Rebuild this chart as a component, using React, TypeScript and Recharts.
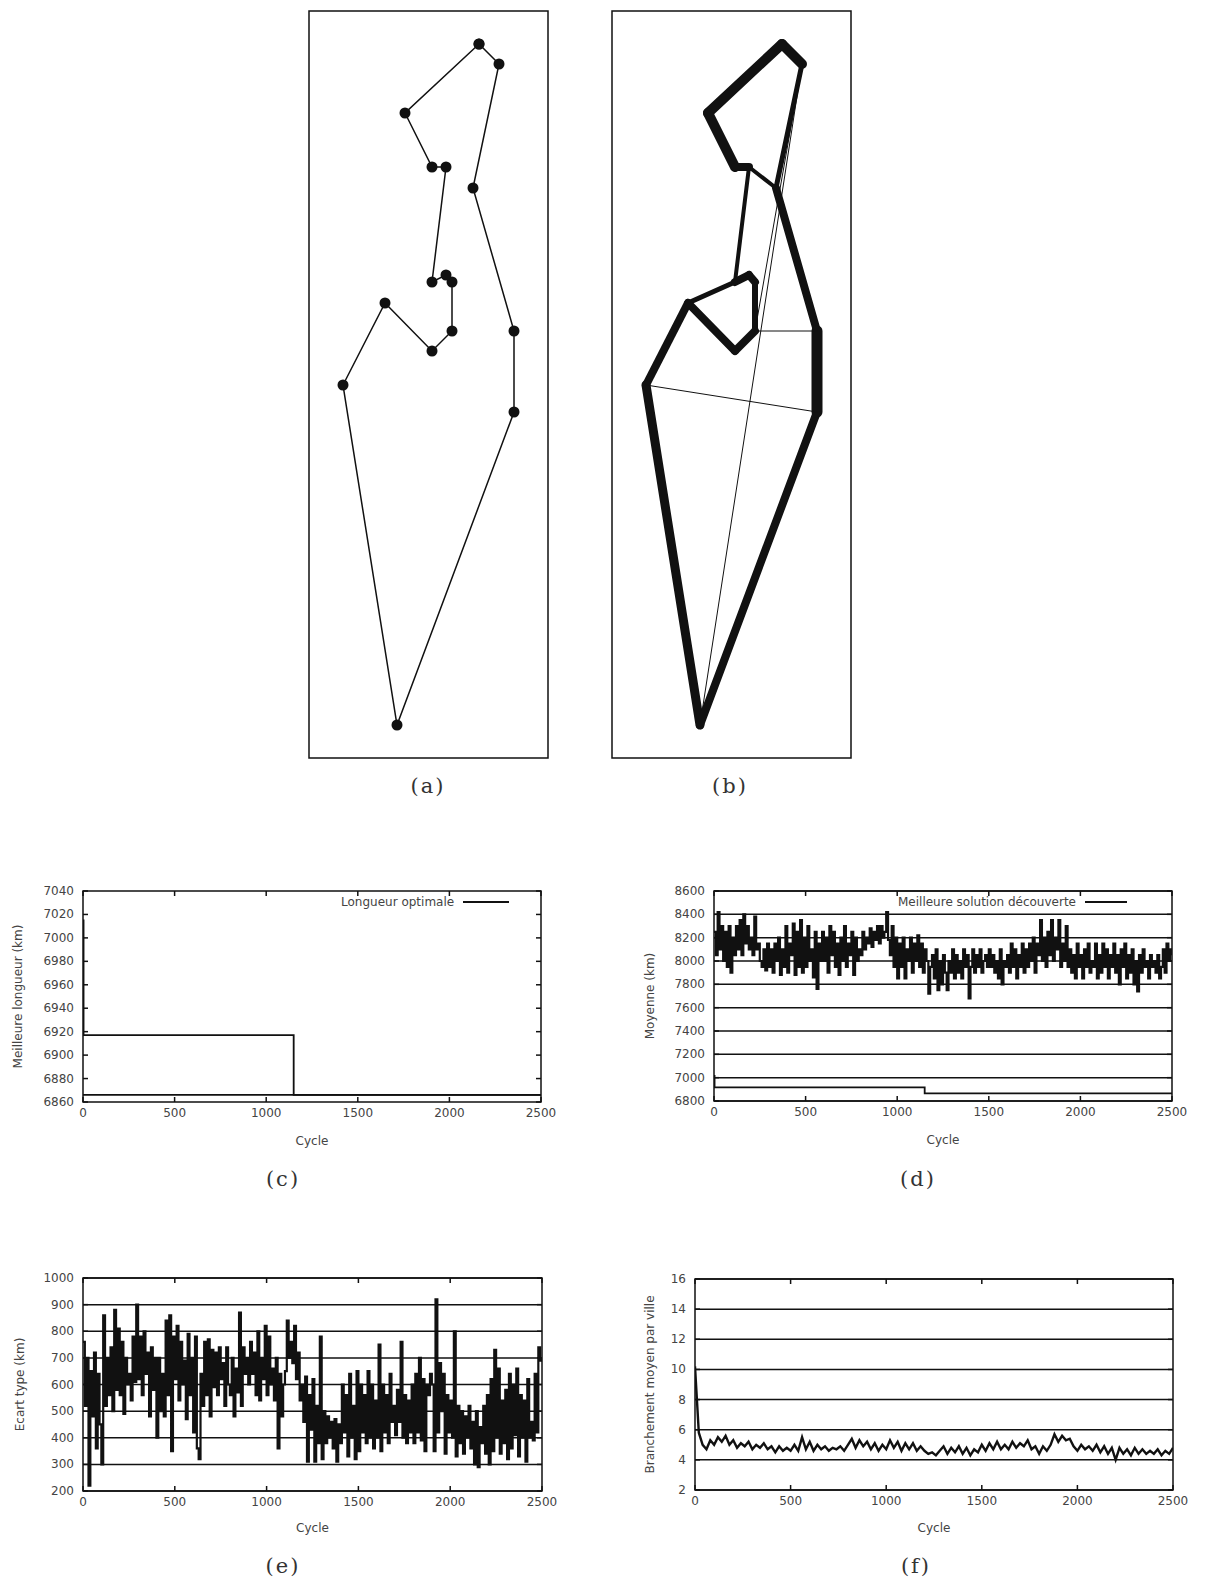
import React from 'react';
import {
  LineChart,
  Line,
  ScatterChart,
  Scatter,
  XAxis,
  YAxis,
  CartesianGrid,
  ReferenceArea,
  Legend,
} from 'recharts';

// ---- tour panels (a) and (b): city coordinates in the plot frame ----
const cityX = [170, 190, 96, 123, 137, 164, 123, 137, 143, 76, 143, 123, 205, 34, 205, 88];
const cityY = [714, 694, 645, 591, 591, 570, 476, 483, 476, 455, 427, 407, 427, 373, 346, 33];
const bestTour = [0, 1, 5, 12, 14, 15, 13, 9, 11, 10, 8, 7, 6, 4, 3, 2, 0];
// [from, to, pheromone level]
const pheromoneEdges = [
  [0, 1, 10], [0, 2, 10], [2, 3, 10], [3, 4, 8], [4, 5, 4], [1, 5, 5],
  [5, 12, 8], [4, 6, 4], [6, 7, 8], [7, 8, 8], [8, 10, 6], [10, 11, 8],
  [11, 9, 8], [9, 6, 5], [9, 13, 8], [13, 15, 9], [15, 14, 8], [14, 12, 11],
  [1, 10, 1], [1, 15, 1], [10, 12, 1], [13, 14, 1],
];

// ---- shared cycle axis ----
const cycleTicks = [0, 500, 1000, 1500, 2000, 2500];

// (c) best length found vs optimal length
const bestCycles = [0, 3, 1150, 2500];
const bestLength = [7015, 6917, 6866, 6866];
const optimalCycles = [0, 2500];
const optimalLength = [6866, 6866];
const lengthTicks = [6860, 6880, 6900, 6920, 6940, 6960, 6980, 7000, 7020, 7040];

// (d) mean tour length, one value every 10 cycles
const MEAN_STEP = 10;
const meanLength = [
  8250, 8050, 8420, 8100, 8300, 8000, 8250, 7950, 8300, 7900,
  8200, 8050, 8300, 8100, 8350, 8050, 8400, 8150, 8300, 8100,
  8200, 8050, 8380, 8100, 8150, 8000, 7950, 8100, 7920, 8150,
  7950, 8100, 7900, 8150, 8000, 8200, 7880, 8100, 7950, 8300,
  7900, 8150, 8050, 8320, 7880, 8250, 7950, 8350, 7900, 8200,
  7950, 8300, 8000, 8100, 7860, 8250, 7760, 8150, 8000, 8250,
  8000, 8200, 7900, 8300, 8050, 8250, 7950, 8150, 7880, 8200,
  8000, 8300, 7950, 8150, 8050, 8250, 7880, 8200, 8000, 8100,
  8050, 8250, 8100, 8200, 8150, 8280, 8120, 8250, 8180, 8300,
  8150, 8300, 8200, 8250, 8420, 8180, 8050, 8300, 7950, 8200,
  7850, 8150, 7950, 8200, 7850, 8100, 8000, 8200, 7900, 8150,
  8000, 8220, 7950, 8150, 7900, 8100, 8000, 7720, 7950, 8050,
  7850, 8100, 7750, 8000, 7800, 8050, 7900, 7750, 8000, 7900,
  8100, 7850, 8050, 7900, 8000, 7850, 8100, 7950, 8050, 7680,
  7950, 8100, 7900, 8050, 7950, 8100, 7900, 8000, 8050, 7950,
  8100, 7950, 8050, 7900, 8000, 7850, 8100, 7800, 8000, 7950,
  8050, 7900, 8150, 7950, 8100, 7850, 8050, 7950, 8150, 7900,
  8100, 7950, 8150, 8000, 8200, 7900, 8150, 8050, 8350, 8000,
  8200, 7950, 8250, 8050, 8350, 8000, 8200, 8100, 8350, 7950,
  8150, 8000, 8300, 7950, 8100, 7900, 8050, 7850, 8150, 7950,
  8050, 7850, 8100, 7950, 8150, 7900, 8000, 7950, 8150, 7850,
  8050, 7900, 8150, 7950, 8100, 7850, 8050, 7950, 8150, 7900,
  8050, 7800, 8100, 7950, 8150, 7850, 8050, 7900, 8100, 7800,
  8000, 7740, 8050, 7900, 8100, 7950, 8000, 7850, 8050, 7950,
  8000, 7900, 8050, 7850, 7950, 8100, 7900, 8150, 8000, 8100,
  8050,
];
const meanTicks = [6800, 7000, 7200, 7400, 7600, 7800, 8000, 8200, 8400, 8600];

// (e) standard deviation, one value every 10 cycles
const STD_STEP = 10;
const stdDev = [
  760, 520, 700, 220, 650, 480, 720, 360, 640, 450,
  300, 860, 520, 700, 560, 740, 500, 880, 580, 810,
  560, 760, 490, 700, 600, 640, 540, 780, 610, 900,
  620, 780, 560, 800, 640, 720, 480, 740, 580, 700,
  400, 700, 500, 640, 480, 840, 560, 860, 350, 780,
  620, 820, 540, 760, 600, 690, 470, 790, 560, 700,
  420, 780, 360, 320, 640, 520, 760, 560, 770, 480,
  730, 590, 720, 560, 740, 620, 680, 520, 740, 600,
  560, 700, 480, 660, 570, 870, 520, 740, 640, 700,
  600, 760, 640, 720, 560, 800, 540, 700, 620, 820,
  560, 780, 600, 660, 540, 700, 360, 640, 480, 600,
  650, 840, 700, 760, 680, 820, 620, 720, 540, 600,
  460, 630, 310, 560, 430, 620, 310, 520, 380, 780,
  320, 500, 380, 480, 400, 460, 360, 470, 310, 450,
  380, 600, 420, 560, 330, 640, 400, 520, 320, 650,
  350, 600, 420, 560, 380, 650, 400, 600, 360, 540,
  400, 750, 350, 600, 420, 560, 380, 640, 460, 520,
  410, 580, 460, 760, 400, 560, 380, 540, 420, 600,
  380, 640, 420, 700, 390, 620, 350, 600, 560, 640,
  600, 350, 920, 420, 680, 500, 640, 340, 560, 420,
  540, 400, 800, 330, 520, 380, 500, 340, 480, 400,
  520, 360, 460, 300, 500, 290, 440, 380, 520, 340,
  560, 300, 620, 350, 730, 400, 660, 340, 540, 380,
  580, 320, 640, 360, 600, 410, 660, 330, 560, 400,
  540, 310, 620, 400, 460, 390, 640, 420, 740, 690,
  700,
];
const stdTicks = [200, 300, 400, 500, 600, 700, 800, 900, 1000];

// (f) mean branching per city, one value every 20 cycles
const BRANCH_STEP = 20;
const branching = [
  10.2, 5.8, 5.0, 4.7, 5.3, 5.0, 5.5, 5.2, 5.6, 5.0,
  5.3, 4.8, 5.1, 4.9, 5.2, 4.7, 5.0, 4.8, 5.1, 4.7,
  4.9, 4.5, 4.9, 4.6, 4.8, 4.6, 5.0, 4.6, 5.5, 4.7,
  5.2, 4.6, 5.0, 4.7, 4.9, 4.6, 4.8, 4.7, 4.9, 4.6,
  5.0, 5.4, 4.8, 5.3, 4.9, 5.2, 4.7, 5.1, 4.6, 5.0,
  4.7, 5.3, 4.8, 5.2, 4.6, 5.1, 4.7, 5.1, 4.6, 4.9,
  4.6, 4.4, 4.5, 4.3, 4.6, 4.9, 4.4, 4.8, 4.5, 4.9,
  4.4, 4.8, 4.3, 4.7, 4.5, 5.0, 4.6, 5.1, 4.7, 5.2,
  4.7, 5.0, 4.7, 5.2, 4.8, 5.1, 4.9, 5.3, 4.7, 4.9,
  4.4, 4.9, 4.6, 5.0, 5.7, 5.2, 5.6, 5.3, 5.4, 4.9,
  4.6, 5.0, 4.7, 4.9, 4.6, 5.0, 4.5, 4.9, 4.4, 4.8,
  4.0, 4.8, 4.4, 4.7, 4.3, 4.8, 4.4, 4.7, 4.4, 4.6,
  4.4, 4.7, 4.3, 4.6, 4.4, 4.8,
];
const branchTicks = [2, 4, 6, 8, 10, 12, 14, 16];

const FONT = '"DejaVu Sans", sans-serif';
const INK = '#111';
const TEXT = '#444';
const X_AXIS_H = 50;

const toPoints = (xs: number[], ys: number[]) => xs.map((x, i) => ({ x, y: ys[i] }));
const sampled = (ys: number[], step: number) => ys.map((y, i) => ({ x: i * step, y }));
const city = (i: number) => ({ x: cityX[i], y: cityY[i] });

// gnuplot style: ticks pointing inwards, mirrored on the opposite side
const xTick = (plotH: number) => (props: any) => {
  const { x, y, payload } = props;
  return (
    <g>
      <line x1={x} y1={y} x2={x} y2={y - 5} stroke={INK} strokeWidth={1.5} />
      <line x1={x} y1={y - plotH} x2={x} y2={y - plotH + 5} stroke={INK} strokeWidth={1.5} />
      <text x={x} y={y + 15} textAnchor="middle" fontFamily={FONT} fontSize={12} fill={TEXT}>
        {payload.value}
      </text>
    </g>
  );
};

const yTick = (plotW: number) => (props: any) => {
  const { x, y, payload } = props;
  return (
    <g>
      <line x1={x} y1={y} x2={x + 5} y2={y} stroke={INK} strokeWidth={1.5} />
      <line x1={x + plotW} y1={y} x2={x + plotW - 5} y2={y} stroke={INK} strokeWidth={1.5} />
      <text x={x - 9} y={y + 4} textAnchor="end" fontFamily={FONT} fontSize={12} fill={TEXT}>
        {payload.value}
      </text>
    </g>
  );
};

const legendBox = (label: string, sample: number) => () => (
  <div
    style={{
      display: 'flex',
      alignItems: 'center',
      fontFamily: FONT,
      fontSize: 12,
      color: TEXT,
      whiteSpace: 'nowrap',
    }}
  >
    <span>{label}</span>
    <span style={{ display: 'inline-block', width: sample, height: 2, background: INK, marginLeft: 9 }} />
  </div>
);

interface Series {
  data: { x: number; y: number }[];
  type: 'linear' | 'stepAfter';
  width: number;
}

interface CyclePlotProps {
  left: number;
  top: number;
  width: number;
  height: number;
  yWidth: number;
  marginTop: number;
  marginRight: number;
  yDomain: [number, number];
  yTicks: number[];
  yLabel: string;
  yLabelOffset: number;
  cycleLabelOffset: number;
  grid?: boolean;
  series: Series[];
  legend?: { label: string; left: number; sample: number };
}

function CyclePlot({
  left,
  top,
  width,
  height,
  yWidth,
  marginTop,
  marginRight,
  yDomain,
  yTicks,
  yLabel,
  yLabelOffset,
  cycleLabelOffset,
  grid,
  series,
  legend,
}: CyclePlotProps) {
  const plotW = width - yWidth - marginRight;
  const plotH = height - marginTop - X_AXIS_H;
  const labelStyle = { textAnchor: 'middle' as const, fontFamily: FONT, fontSize: 12, fill: TEXT };

  return (
    <div style={{ position: 'absolute', left, top }}>
      <LineChart width={width} height={height} margin={{ top: marginTop, right: marginRight, bottom: 0, left: 0 }}>
        {grid && <CartesianGrid vertical={false} stroke={INK} strokeWidth={1.5} />}
        <XAxis
          type="number"
          dataKey="x"
          domain={[0, 2500]}
          ticks={cycleTicks}
          interval={0}
          allowDataOverflow
          axisLine={false}
          tickLine={false}
          tickSize={0}
          tickMargin={0}
          height={X_AXIS_H}
          tick={xTick(plotH)}
          label={{ value: 'Cycle', position: 'insideBottom', offset: cycleLabelOffset, style: labelStyle }}
        />
        <YAxis
          type="number"
          dataKey="y"
          domain={yDomain}
          ticks={yTicks}
          interval={0}
          allowDataOverflow
          axisLine={false}
          tickLine={false}
          tickSize={0}
          tickMargin={0}
          width={yWidth}
          tick={yTick(plotW)}
          label={{ value: yLabel, angle: -90, position: 'insideLeft', offset: yLabelOffset, style: labelStyle }}
        />
        <ReferenceArea
          x1={0}
          x2={2500}
          y1={yDomain[0]}
          y2={yDomain[1]}
          fill="none"
          stroke={INK}
          strokeWidth={1.5}
        />
        {series.map((s, i) => (
          <Line
            key={i}
            data={s.data}
            dataKey="y"
            type={s.type}
            stroke={INK}
            strokeWidth={s.width}
            dot={false}
            activeDot={false}
            isAnimationActive={false}
          />
        ))}
        {legend && (
          <Legend
            layout="vertical"
            align="center"
            verticalAlign="middle"
            wrapperStyle={{ top: 15, left: legend.left, width: 'auto', height: 'auto' }}
            content={legendBox(legend.label, legend.sample)}
          />
        )}
      </LineChart>
    </div>
  );
}

const TOUR_W = 239;
const TOUR_H = 747;

function TourFrame({ left, children }: { left: number; children: React.ReactNode }) {
  return (
    <div style={{ position: 'absolute', left, top: 9 }}>
      <ScatterChart width={TOUR_W + 4} height={TOUR_H + 4} margin={{ top: 2, right: 2, bottom: 2, left: 2 }}>
        <XAxis type="number" dataKey="x" domain={[0, TOUR_W]} hide allowDataOverflow />
        <YAxis type="number" dataKey="y" domain={[0, TOUR_H]} hide allowDataOverflow />
        <ReferenceArea x1={0} x2={TOUR_W} y1={0} y2={TOUR_H} fill="none" stroke={INK} strokeWidth={1.5} />
        {children}
      </ScatterChart>
    </div>
  );
}

function Caption({ text, cx, cy }: { text: string; cx: number; cy: number }) {
  return (
    <div
      style={{
        position: 'absolute',
        left: cx - 30,
        top: cy - 13,
        width: 60,
        textAlign: 'center',
        fontFamily: '"DejaVu Serif", serif',
        fontSize: 21,
        lineHeight: '26px',
        letterSpacing: 2,
        color: '#333',
      }}
    >
      {text}
    </div>
  );
}

const cityDot = (props: any) => <circle cx={props.cx} cy={props.cy} r={5.5} fill={INK} />;
const noDot = () => <g />;

export default function App() {
  const tourPoints = bestTour.map(city);
  const bestSeries = toPoints(bestCycles, bestLength);

  return (
    <div style={{ position: 'absolute', left: 0, top: 0, width: 1206, height: 1587, background: '#fff' }}>
      <TourFrame left={307}>
        {[
          <Scatter
            key="tour"
            data={tourPoints}
            fill={INK}
            line={{ stroke: INK, strokeWidth: 1.5 }}
            shape={cityDot}
            isAnimationActive={false}
          />,
        ]}
      </TourFrame>
      <TourFrame left={610}>
        {pheromoneEdges.map(([a, b, level], i) => (
          <Scatter
            key={i}
            data={[city(a), city(b)]}
            fill={INK}
            line={{ stroke: INK, strokeWidth: level, strokeLinecap: 'round' }}
            shape={noDot}
            isAnimationActive={false}
          />
        ))}
      </TourFrame>
      <Caption text="(a)" cx={428} cy={786} />
      <Caption text="(b)" cx={730} cy={786} />

      <CyclePlot
        left={0}
        top={880}
        width={561}
        height={272}
        yWidth={83}
        marginTop={11}
        marginRight={20}
        yDomain={[6860, 7040]}
        yTicks={lengthTicks}
        yLabel="Meilleure longueur (km)"
        yLabelOffset={18}
        cycleLabelOffset={7}
        series={[
          { data: toPoints(optimalCycles, optimalLength), type: 'linear', width: 1.8 },
          { data: bestSeries, type: 'stepAfter', width: 1.8 },
        ]}
        legend={{ label: 'Longueur optimale', left: 341, sample: 46 }}
      />
      <CyclePlot
        left={620}
        top={880}
        width={577}
        height={271}
        yWidth={94}
        marginTop={11}
        marginRight={25}
        yDomain={[6800, 8600]}
        yTicks={meanTicks}
        yLabel="Moyenne (km)"
        yLabelOffset={30}
        cycleLabelOffset={7}
        grid
        series={[
          { data: sampled(meanLength, MEAN_STEP), type: 'stepAfter', width: 2.2 },
          { data: bestSeries, type: 'stepAfter', width: 1.8 },
        ]}
        legend={{ label: 'Meilleure solution découverte', left: 278, sample: 42 }}
      />
      <Caption text="(c)" cx={283} cy={1179} />
      <Caption text="(d)" cx={918} cy={1179} />

      <CyclePlot
        left={0}
        top={1265}
        width={562}
        height={276}
        yWidth={83}
        marginTop={13}
        marginRight={20}
        yDomain={[200, 1000]}
        yTicks={stdTicks}
        yLabel="Ecart type (km)"
        yLabelOffset={20}
        cycleLabelOffset={9}
        grid
        series={[{ data: sampled(stdDev, STD_STEP), type: 'stepAfter', width: 2.2 }]}
      />
      <CyclePlot
        left={620}
        top={1265}
        width={578}
        height={275}
        yWidth={75}
        marginTop={14}
        marginRight={25}
        yDomain={[2, 16]}
        yTicks={branchTicks}
        yLabel="Branchement moyen par ville"
        yLabelOffset={30}
        cycleLabelOffset={8}
        grid
        series={[{ data: sampled(branching, BRANCH_STEP), type: 'linear', width: 2.4 }]}
      />
      <Caption text="(e)" cx={283} cy={1566} />
      <Caption text="(f)" cx={916} cy={1566} />
    </div>
  );
}
